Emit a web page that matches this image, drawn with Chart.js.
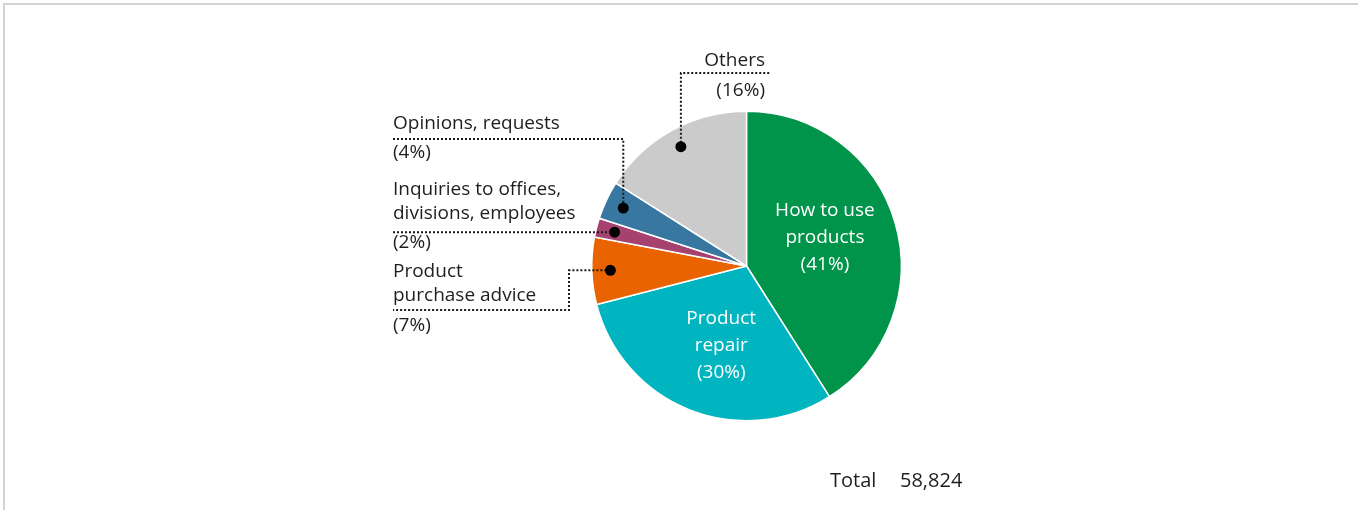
<!DOCTYPE html>
<html>
<head>
<meta charset="utf-8">
<script src="https://cdn.jsdelivr.net/npm/chart.js@4/dist/chart.umd.min.js"></script>
<style>
  html, body { margin: 0; padding: 0; background: #fff; }
  #wrap { position: relative; width: 1358px; height: 510px; overflow: hidden; }
  #frame { position: absolute; left: 3px; top: 3px; right: -10px; bottom: -10px;
           border-top: 2px solid #d3d3d3; border-left: 2px solid #d3d3d3; }
  #box { position: absolute; left: 0; top: 0; width: 1358px; height: 510px; }
</style>
</head>
<body>
<div id="wrap">
  <div id="frame"></div>
  <div id="box"><canvas id="pie"></canvas></div>
</div>
<script>
// inquiry categories, clockwise from 12 o'clock
const categories = ['How to use products', 'Product repair', 'Product purchase advice',
  'Inquiries to offices, divisions, employees', 'Opinions, requests', 'Others'];
const shares = [41, 30, 7, 2, 4, 16];
const sliceColors = ['#00934a', '#00b4c0', '#e96300', '#a6426f', '#3878a0', '#cbcbcb'];
const labelLines = [
  ['How to use', 'products'],
  ['Product', 'repair'],
  ['Product', 'purchase advice'],
  ['Inquiries to offices,', 'divisions, employees'],
  ['Opinions, requests'],
  ['Others']
];
const totalLabel = 'Total';
const totalValue = '58,824';

const FONT = '"Open Sans", "Noto Sans", sans-serif';

const calloutPlugin = {
  id: 'callouts',
  afterDatasetsDraw(chart) {
    const ctx = chart.ctx;
    const arcs = chart.getDatasetMeta(0).data;
    const pct = i => '(' + shares[i] + '%)';

    const anchor = (i, frac, shift) => {
      const a = arcs[i].getProps(['x', 'y', 'startAngle', 'endAngle', 'outerRadius'], true);
      const mid = (a.startAngle + a.endAngle) / 2 + (shift || 0);
      return { x: a.x + Math.cos(mid) * a.outerRadius * frac, y: a.y + Math.sin(mid) * a.outerRadius * frac };
    };

    ctx.save();
    ctx.textBaseline = 'middle';

    // labels inside the two big slices
    ctx.fillStyle = '#fff';
    ctx.font = '19px ' + FONT;
    ctx.textAlign = 'center';
    [0, 1].forEach(i => {
      const p = anchor(i, 0.54, -4 * Math.PI / 180);
      const lines = labelLines[i].concat([pct(i)]);
      lines.forEach((t, k) => ctx.fillText(t, p.x, p.y + (k - 1) * 27));
    });

    // leader lines
    const left = 393;
    ctx.strokeStyle = '#1a1a1a';
    ctx.lineWidth = 2;
    ctx.setLineDash([2, 2]);
    const dots = {};
    [2, 3, 4, 5].forEach(i => { dots[i] = anchor(i, 0.88); });

    const path = pts => {
      ctx.beginPath();
      pts.forEach((p, k) => k ? ctx.lineTo(p[0], p[1]) : ctx.moveTo(p[0], p[1]));
      ctx.stroke();
    };
    const o = dots[5], op = dots[4], iq = dots[3], pp = dots[2];
    path([[o.x, o.y], [o.x, 73], [770, 73]]);
    path([[left, 139], [op.x, 139], [op.x, op.y]]);
    path([[left, iq.y], [iq.x, iq.y]]);
    path([[pp.x, pp.y], [569, pp.y], [569, 310], [left, 310]]);
    ctx.setLineDash([]);

    ctx.fillStyle = '#000';
    Object.values(dots).forEach(d => {
      ctx.beginPath();
      ctx.arc(d.x, d.y, 5.5, 0, Math.PI * 2);
      ctx.fill();
    });

    // outside label text
    ctx.fillStyle = '#1e1e1e';
    ctx.font = '19px ' + FONT;
    ctx.textAlign = 'right';
    ctx.fillText(labelLines[5][0], 765, 61);
    ctx.fillText(pct(5), 765, 91);
    ctx.textAlign = 'left';
    ctx.fillText(labelLines[4][0], left, 124);
    ctx.fillText(pct(4), left, 153);
    ctx.fillText(labelLines[3][0], left, 190);
    ctx.fillText(labelLines[3][1], left, 214);
    ctx.fillText(pct(3), left, 243);
    ctx.fillText(labelLines[2][0], left, 272);
    ctx.fillText(labelLines[2][1], left, 296);
    ctx.fillText(pct(2), left, 326);

    // total
    ctx.font = '20px ' + FONT;
    ctx.fillText(totalLabel, 830, 481);
    ctx.fillText(totalValue, 900, 481);
    ctx.restore();
  }
};

new Chart(document.getElementById('pie'), {
  type: 'pie',
  data: {
    labels: categories,
    datasets: [{
      data: shares,
      backgroundColor: sliceColors,
      borderColor: '#fff',
      borderWidth: 1.5
    }]
  },
  options: {
    responsive: true,
    maintainAspectRatio: false,
    animation: false,
    layout: { padding: { left: 591, right: 456, top: 110, bottom: 88 } },
    plugins: {
      legend: { display: false },
      tooltip: { enabled: false }
    }
  },
  plugins: [calloutPlugin]
});
</script>
</body>
</html>
